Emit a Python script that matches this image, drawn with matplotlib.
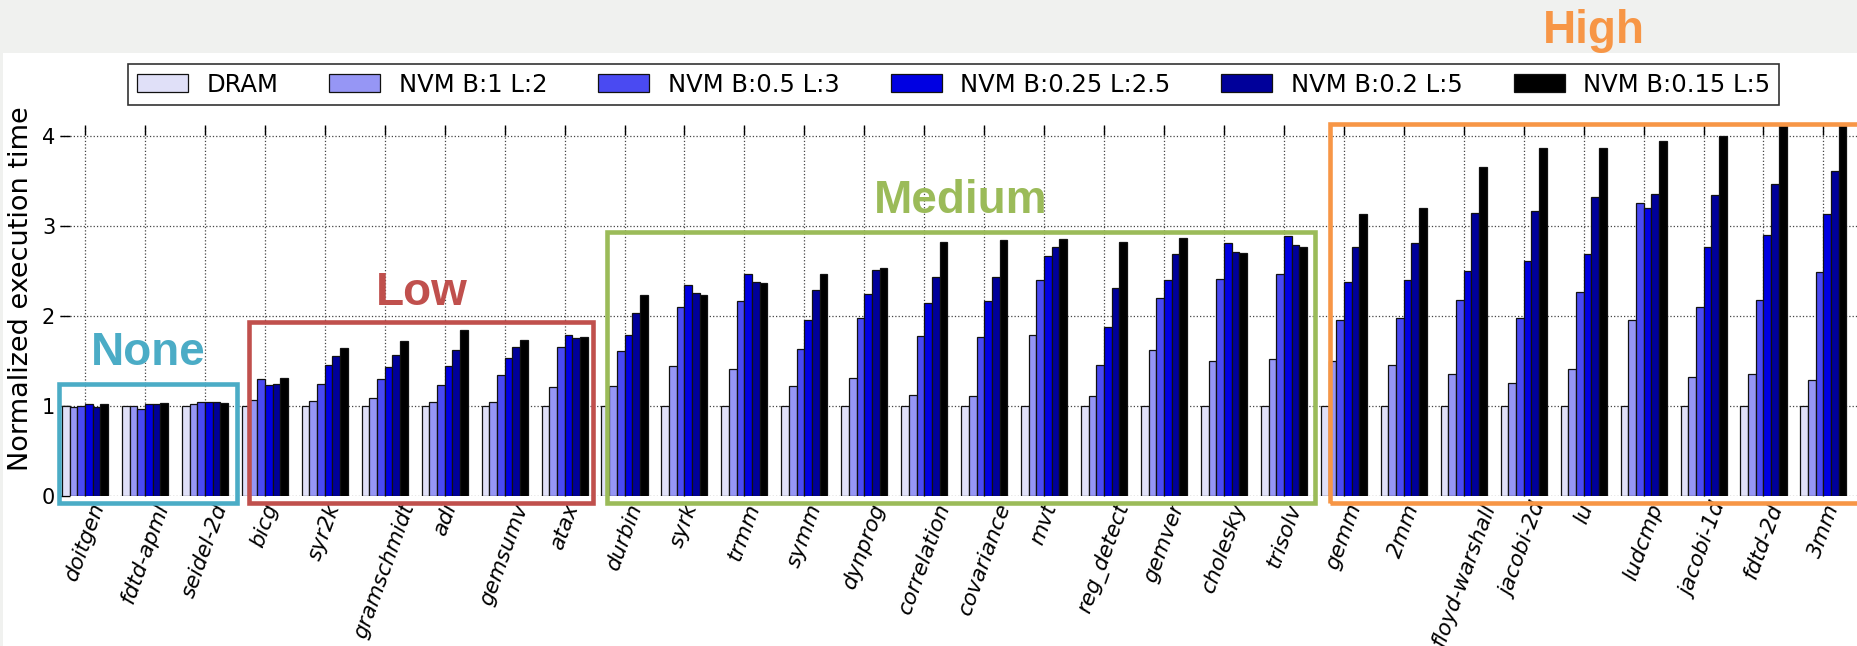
import matplotlib
matplotlib.use('Agg')
import matplotlib.pyplot as plt
from matplotlib.patches import Rectangle
import numpy as np

benchmarks = ['doitgen', 'fdtd-apml', 'seidel-2d',
              'bicg', 'syr2k', 'gramschmidt', 'adi', 'gemsumv', 'atax',
              'durbin', 'syrk', 'trmm', 'symm', 'dynprog', 'correlation',
              'covariance', 'mvt', 'reg_detect', 'gemver', 'cholesky', 'trisolv',
              'gemm', '2mm', 'floyd-warshall', 'jacobi-2d', 'lu', 'ludcmp',
              'jacobi-1d', 'fdtd-2d', '3mm']

series_labels = ['DRAM', 'NVM B:1 L:2', 'NVM B:0.5 L:3', 'NVM B:0.25 L:2.5',
                 'NVM B:0.2 L:5', 'NVM B:0.15 L:5']

dram = [1.0, 1.0, 1.0, 1.0, 1.0, 1.0, 1.0, 1.0, 1.0, 1.0,
        1.0, 1.0, 1.0, 1.0, 1.0, 1.0, 1.0, 1.0, 1.0, 1.0,
        1.0, 1.0, 1.0, 1.0, 1.0, 1.0, 1.0, 1.0, 1.0, 1.0]
nvm_b1 = [0.99, 1.0, 1.02, 1.07, 1.05, 1.09, 1.04, 1.04, 1.21, 1.22,
          1.44, 1.41, 1.22, 1.31, 1.12, 1.11, 1.79, 1.11, 1.62, 1.50,
          1.52, 1.50, 1.46, 1.35, 1.26, 1.41, 1.96, 1.32, 1.35, 1.29]
nvm_b05 = [1.0, 0.97, 1.04, 1.30, 1.24, 1.30, 1.23, 1.34, 1.66, 1.61,
           2.10, 2.17, 1.63, 1.98, 1.78, 1.77, 2.40, 1.45, 2.20, 2.41,
           2.47, 1.96, 1.98, 2.18, 1.98, 2.27, 3.25, 2.10, 2.18, 2.49]
nvm_b025 = [1.02, 1.02, 1.04, 1.23, 1.45, 1.43, 1.44, 1.53, 1.79, 1.79,
            2.34, 2.46, 1.96, 2.24, 2.14, 2.17, 2.66, 1.88, 2.40, 2.81,
            2.89, 2.38, 2.40, 2.50, 2.61, 2.69, 3.20, 2.77, 2.90, 3.13]
nvm_b02 = [0.99, 1.02, 1.04, 1.24, 1.56, 1.57, 1.62, 1.65, 1.75, 2.03,
           2.25, 2.38, 2.29, 2.51, 2.43, 2.43, 2.77, 2.31, 2.69, 2.71,
           2.79, 2.77, 2.81, 3.14, 3.17, 3.32, 3.35, 3.34, 3.46, 3.61]
nvm_b015 = [1.02, 1.03, 1.03, 1.31, 1.64, 1.72, 1.84, 1.73, 1.77, 2.23,
            2.23, 2.37, 2.46, 2.53, 2.82, 2.84, 2.85, 2.82, 2.86, 2.70,
            2.77, 3.13, 3.20, 3.65, 3.87, 3.87, 3.94, 4.00, 4.25, 4.35]

series = [dram, nvm_b1, nvm_b05, nvm_b025, nvm_b02, nvm_b015]
colors = ['#e0e0f8', '#9696f5', '#4a4af2', '#0000e2', '#00009a', '#000000']

# slide annotation boxes: label, colour, box (left, top, right, bottom), text centre x, text baseline y (pixels)
groups = [
    ('None', '#4bacc6', (59, 384, 237, 503), 148, 365),
    ('Low', '#c0504d', (249, 322, 593, 503), 422, 305),
    ('Medium', '#9bbb59', (607, 232, 1315, 503), 961, 213),
    ('High', '#f79646', (1330, 124, 1880, 503), 1594, 43),
]

W, H = 1857, 646
fig = plt.figure(figsize=(W / 100, H / 100), dpi=100, facecolor='#f0f1ef')
fig.add_artist(Rectangle((3 / W, 0), 1, 1 - 53 / H, transform=fig.transFigure,
                         facecolor='white', edgecolor='none', zorder=0))

ax = fig.add_axes([60 / W, 1 - 496 / H, 1 - 60 / W, (496 - 125) / H])

x = np.arange(len(benchmarks))
width = 0.128
for k, vals in enumerate(series):
    ax.bar(x + (k - 2.5) * width, vals, width, color=colors[k],
           edgecolor='#111111', linewidth=0.9, label=series_labels[k])

ax.set_xlim(-0.417, 29.56)
ax.set_ylim(0, 4.12)
ax.set_yticks([0, 1, 2, 3, 4])
ax.set_xticks(x)
ax.set_xticklabels(benchmarks, rotation=70, fontsize=15.5, style='italic')
ax.tick_params(direction='in', top=True, length=7, width=1)
ax.tick_params(axis='y', labelsize=15)
for s in ax.spines.values():
    s.set_visible(False)
ax.grid(True, linestyle=':', color='#444444', linewidth=0.9)
ax.set_axisbelow(True)
ax.set_ylabel('Normalized execution time', fontsize=19.5)
ax.yaxis.set_label_coords(-0.0145, 0.56)

handles, labels = ax.get_legend_handles_labels()
leg = fig.legend(handles, labels, loc='center', bbox_to_anchor=(953.5 / W, 1 - 84.5 / H),
                 ncol=6, fontsize=17.5, frameon=True, fancybox=False, edgecolor='black',
                 handlelength=2.1, handleheight=0.8, handletextpad=0.76,
                 columnspacing=2.1, borderpad=0.35)
leg.get_frame().set_linewidth(1.2)

for name, col, (l, t, r, b), tx, ty in groups:
    fig.add_artist(Rectangle((l / W, 1 - b / H), (r - l) / W, (b - t) / H,
                             transform=fig.transFigure, fill=False, edgecolor=col,
                             linewidth=3.3, zorder=5))
    fig.text(tx / W, 1 - ty / H, name, color=col, fontsize=33, fontweight='bold',
             family='Liberation Sans', ha='center', va='baseline', zorder=6)

fig.savefig('out.png', dpi=100, facecolor=fig.get_facecolor())
